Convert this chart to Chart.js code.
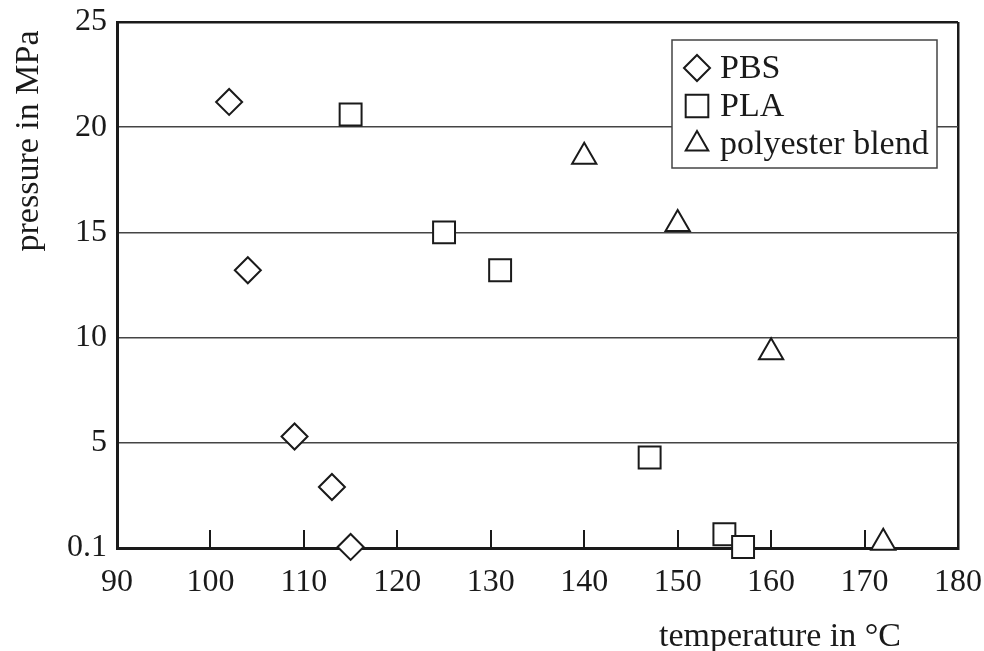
<!DOCTYPE html>
<html>
<head>
<meta charset="utf-8">
<script src="https://cdn.jsdelivr.net/npm/chart.js@4/dist/chart.umd.min.js"></script>
<style>
  html, body { margin: 0; padding: 0; background: #fff; }
  #wrap { width: 984px; height: 651px; }
</style>
</head>
<body>
<div id="wrap"><canvas id="grafico"></canvas></div>
<script>
// valores
const pbsTemp = [102, 104, 109, 113, 115];
const pbsPress = [21.2, 13.2, 5.3, 2.9, 0.05];
const plaTemp = [115, 125, 131, 147, 155, 157];
const plaPress = [20.6, 15.0, 13.2, 4.3, 0.65, 0.05];
const blendTemp = [140, 150, 160, 172];
const blendPress = [18.6, 15.4, 9.3, 0.25];
const seriesNames = ['PBS', 'PLA', 'polyester blend'];
const xTicks = [90, 100, 110, 120, 130, 140, 150, 160, 170, 180];
const yTicks = [0, 5, 10, 15, 20, 25];
const yTickLabels = ['0.1', '5', '10', '15', '20', '25'];

const FONT = '"Liberation Serif", "Times New Roman", serif';
const INK = '#1a1a1a';

function pts(xs, ys) {
    return xs.map((x, i) => ({ x: x, y: ys[i] }));
}

const markers = ['rectRot', 'rect', 'triangle'];
const radii = [13, 15.5, 14];

const dados = {
    datasets: [
        { label: seriesNames[0], data: pts(pbsTemp, pbsPress) },
        { label: seriesNames[1], data: pts(plaTemp, plaPress) },
        { label: seriesNames[2], data: pts(blendTemp, blendPress) }
    ].map((d, i) => Object.assign(d, {
        pointStyle: markers[i],
        pointRadius: radii[i],
        pointHoverRadius: radii[i],
        pointBorderWidth: 2,
        pointBorderColor: INK,
        pointBackgroundColor: '#fff',
        showLine: false,
        clip: false
    }))
};

// ticks para dentro, títulos e legenda dentro da área
const extras = {
    id: 'extras',
    afterDraw(chart) {
        const ctx = chart.ctx;
        const a = chart.chartArea;
        const xs = chart.scales.x;
        ctx.save();
        // ticks internos no eixo x
        ctx.strokeStyle = INK;
        ctx.lineWidth = 2;
        xTicks.slice(1, -1).forEach(v => {
            const px = Math.round(xs.getPixelForValue(v));
            ctx.beginPath();
            ctx.moveTo(px, a.bottom);
            ctx.lineTo(px, a.bottom - 18);
            ctx.stroke();
        });
        // títulos dos eixos
        ctx.fillStyle = INK;
        ctx.font = '34px ' + FONT;
        ctx.textAlign = 'center';
        ctx.textBaseline = 'alphabetic';
        ctx.fillText('temperature in \u00B0C', 780, 646);
        ctx.translate(38, 141);
        ctx.rotate(-Math.PI / 2);
        ctx.fillText('pressure in MPa', 0, 0);
        ctx.restore();

        // legenda
        ctx.save();
        const lx = a.right - 286, ly = a.top + 18, lw = 265, lh = 128;
        ctx.fillStyle = '#fff';
        ctx.fillRect(lx, ly, lw, lh);
        ctx.strokeStyle = '#444';
        ctx.lineWidth = 1.5;
        ctx.strokeRect(lx, ly, lw, lh);
        ctx.font = '34px ' + FONT;
        ctx.textAlign = 'left';
        ctx.textBaseline = 'middle';
        chart.data.datasets.forEach((d, i) => {
            const cy = ly + 28 + i * 38;
            ctx.strokeStyle = INK;
            ctx.fillStyle = '#fff';
            ctx.lineWidth = 2;
            Chart.helpers.drawPoint(ctx, { pointStyle: d.pointStyle, radius: i === 1 ? 16 : 13, rotation: 0, borderWidth: 2 }, lx + 25, cy);
            ctx.fillStyle = INK;
            ctx.fillText(d.label, lx + 48, cy + 1);
        });
        ctx.restore();
    }
};

const config = {
    type: 'scatter',
    data: dados,
    plugins: [extras],
    options: {
        responsive: true,
        maintainAspectRatio: false,
        animation: false,
        layout: { padding: { top: 22, right: 26, left: 0, bottom: 0 } },
        plugins: {
            legend: { display: false },
            tooltip: { enabled: false }
        },
        scales: {
            x: {
                type: 'linear',
                min: 90,
                max: 180,
                afterFit: s => { s.height = 103; s.paddingLeft = 0; s.paddingRight = 0; },
                afterBuildTicks: s => { s.ticks = xTicks.map(v => ({ value: v })); },
                ticks: { color: INK, font: { family: FONT, size: 32 }, padding: 15, maxRotation: 0 },
                grid: {
                    drawTicks: false,
                    color: c => (c.tick && c.tick.value === 180 ? INK : 'rgba(0,0,0,0)'),
                    lineWidth: 2.5
                },
                border: { display: true, color: INK, width: 3 }
            },
            y: {
                min: 0,
                max: 25,
                afterFit: s => { s.width = 117; s.paddingTop = 0; s.paddingBottom = 0; },
                afterBuildTicks: s => { s.ticks = yTicks.map(v => ({ value: v })); },
                ticks: {
                    color: INK,
                    font: { family: FONT, size: 32 },
                    padding: 10,
                    callback: (v) => yTickLabels[yTicks.indexOf(v)]
                },
                grid: {
                    drawTicks: false,
                    color: c => {
                        if (!c.tick) return 'rgba(0,0,0,0)';
                        if (c.tick.value === 25) return INK;
                        if (c.tick.value === 0) return 'rgba(0,0,0,0)';
                        return '#444';
                    },
                    lineWidth: c => (c.tick && c.tick.value === 25 ? 2.5 : 1.5)
                },
                border: { display: true, color: INK, width: 3 }
            }
        }
    }
};

window.onload = function () {
    const ctx = document.getElementById('grafico').getContext('2d');
    new Chart(ctx, config);
};
</script>
</body>
</html>
